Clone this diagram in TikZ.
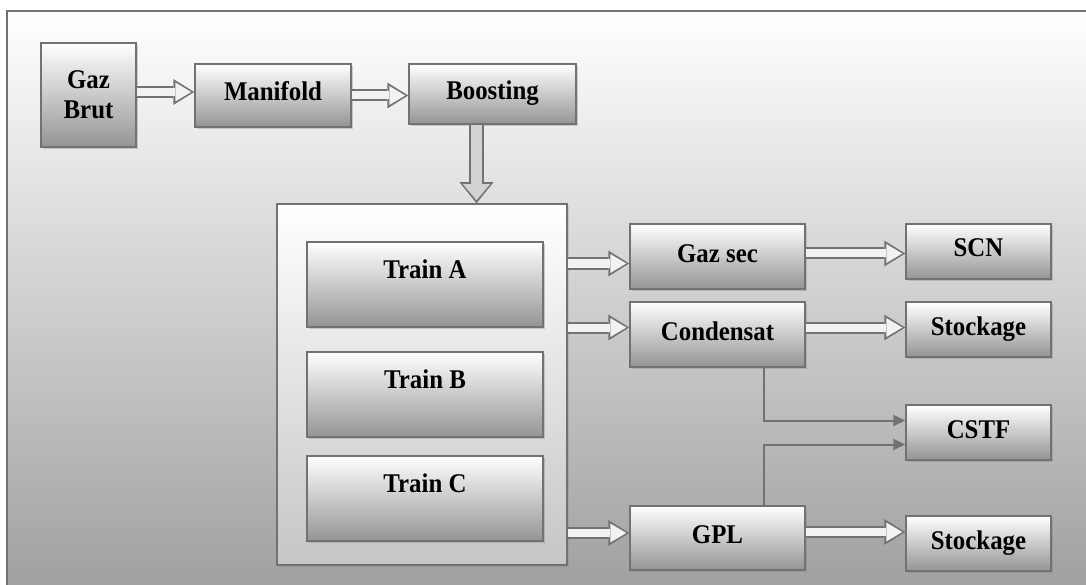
\documentclass[tikz,border=0pt]{standalone}
\usepackage{fontspec}
\setmainfont{Liberation Serif}[FakeStretch=0.92]
\usetikzlibrary{arrows.meta,shadows}
\definecolor{edgegray}{HTML}{727272}
\definecolor{boxgray}{HTML}{949494}
\definecolor{bggray}{HTML}{9E9E9E}
\definecolor{headfill}{HTML}{F2F2F2}
\begin{document}
\begin{tikzpicture}[x=1pt,y=-1pt,
    box/.style={draw=edgegray, line width=1.5pt, top color=white, bottom color=boxgray,
        drop shadow={shadow xshift=2pt, shadow yshift=-2pt, opacity=0.35},
        inner sep=0pt, text height=17pt, text depth=6pt,
        font=\bfseries\fontsize{27}{30}\selectfont},
    flow/.style={draw=edgegray, line width=12pt,
        -{Triangle[length=21pt, width=26pt, line width=0pt]},
        postaction={draw=headfill, line width=8pt, shorten >=3pt,
            -{Triangle[length=16pt, width=19pt, line width=0pt]}}},
    bigflow/.style={draw=edgegray, line width=15pt,
        -{Triangle[length=21pt, width=34pt, line width=0pt]},
        postaction={draw=gray!35, line width=11pt, shorten >=3pt,
            -{Triangle[length=16pt, width=27pt, line width=0pt]}}},
    feed/.style={draw=edgegray, line width=2pt, -{Triangle[length=12pt, width=11pt]}}]
    \useasboundingbox (0,0) rectangle (1086,585);
    \fill[top color=white, bottom color=bggray] (7,11) rectangle (1100,600);
    \draw[edgegray, line width=2pt] (7,600) -- (7,11) -- (1100,11);

    % first row
    \node[box, text height=, text depth=, align=center, minimum width=95pt, minimum height=104pt] (gb) at (88.5,95) {Gaz\\Brut};
    \node[box, minimum width=156pt, minimum height=63pt] (mf) at (273,95.5) {Manifold};
    \node[box, minimum width=167pt, minimum height=60pt] (bo) at (492.5,94) {Boosting};

    % trains
    \node[draw=edgegray, line width=1.5pt, top color=white, bottom color=gray!45,
        drop shadow={shadow xshift=2pt, shadow yshift=-2pt, opacity=0.25},
        minimum width=290pt, minimum height=361pt] (cont) at (422,384.5) {};
    \node[box, text depth=30pt, minimum width=236pt, minimum height=85pt] (ta) at (425,284.5) {Train A};
    \node[box, text depth=30pt, minimum width=236pt, minimum height=85pt] (tb) at (425,394.5) {Train B};
    \node[box, text depth=30pt, minimum width=236pt, minimum height=85pt] (tc) at (425,498.5) {Train C};

    % products
    \node[box, minimum width=175pt, minimum height=65pt] (gs) at (717.5,256.5) {Gaz sec};
    \node[box, minimum width=175pt, minimum height=65pt] (cd) at (717.5,334.5) {Condensat};
    \node[box, minimum width=175pt, minimum height=64pt] (gpl) at (717.5,538) {GPL};
    \node[box, minimum width=145pt, minimum height=55pt] (scn) at (978.5,251.5) {SCN};
    \node[box, minimum width=145pt, minimum height=55pt] (st1) at (978.5,329.5) {Stockage};
    \node[box, minimum width=145pt, minimum height=55pt] (cstf) at (978.5,432.5) {CSTF};
    \node[box, minimum width=145pt, minimum height=55pt] (st2) at (978.5,543.5) {Stockage};

    \draw[flow] ([yshift=3pt]gb.east) -- ([yshift=3pt]gb.east -| mf.west);
    \draw[flow] (mf.east) -- (mf.east -| bo.west);
    \draw[bigflow] ([xshift=-16pt]bo.south) -- ([xshift=-16pt]bo.south |- cont.north);

    \draw[flow] ([yshift=-7pt]gs.west -| cont.east) -- ([yshift=-7pt]gs.west);
    \draw[flow] ([yshift=7pt]cd.west -| cont.east) -- ([yshift=7pt]cd.west);
    \draw[flow] ([yshift=5pt]gpl.west -| cont.east) -- ([yshift=5pt]gpl.west);

    \draw[flow] ([yshift=3pt]gs.east) -- ([yshift=3pt]gs.east -| scn.west);
    \draw[flow] ([yshift=7pt]cd.east) -- ([yshift=7pt]cd.east -| st1.west);
    \draw[flow] ([yshift=6pt]gpl.east) -- ([yshift=6pt]gpl.east -| st2.west);

    \draw[feed] ([xshift=46pt]cd.south) |- ([yshift=12pt]cstf.west);
    \draw[feed] ([xshift=46pt]gpl.north) |- ([yshift=-12pt]cstf.west);
\end{tikzpicture}
\end{document}
